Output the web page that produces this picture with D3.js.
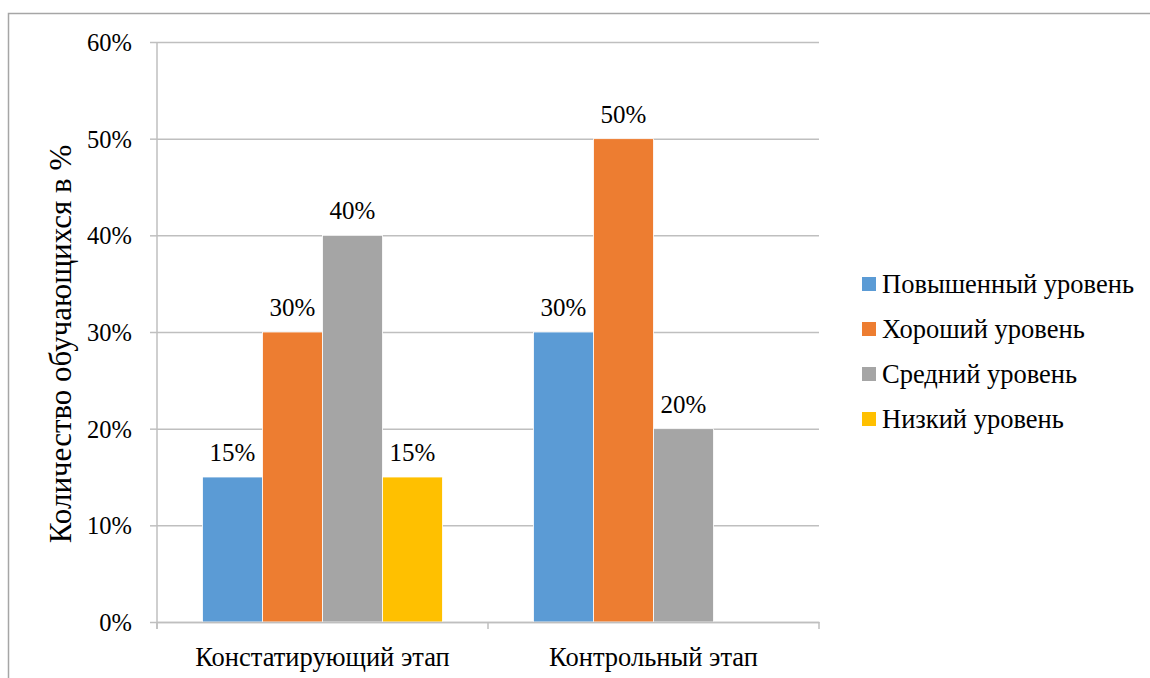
<!DOCTYPE html>
<html>
<head>
<meta charset="utf-8">
<script src="https://cdn.jsdelivr.net/npm/d3@7"></script>
<style>
  body { margin: 0; background: #fff; }
  svg { display: block; }
  .grid line { stroke: #bfbfbf; stroke-width: 1.5; }
  .grid path { display: none; }
</style>
</head>
<body>
<div id="chart"></div>
<script>
const categories = ["Констатирующий этап", "Контрольный этап"];
const seriesNames = ["Повышенный уровень", "Хороший уровень", "Средний уровень", "Низкий уровень"];
const seriesColors = ["#5b9bd5", "#ed7d31", "#a5a5a5", "#ffc000"];
// values per series, one per category (null = no value)
const povyshenny = [15, 30];
const khoroshy = [30, 50];
const sredny = [40, 20];
const nizky = [15, null];
const yTicks = [0, 10, 20, 30, 40, 50, 60];
const yTitle = "Количество обучающихся в %";

const serif = '"Liberation Serif", "Times New Roman", serif';
const width = 1150, height = 678;
const margin = {top: 42, right: 331, bottom: 56, left: 157};
const innerW = width - margin.left - margin.right;
const innerH = height - margin.top - margin.bottom;

const seriesValues = [povyshenny, khoroshy, sredny, nizky];

const svg = d3.select("#chart").append("svg")
    .attr("width", width)
    .attr("height", height);

// outer frame of the chart area
svg.append("rect")
    .attr("x", 8.5).attr("y", 13.5)
    .attr("width", 1300).attr("height", 800)
    .attr("fill", "none")
    .attr("stroke", "#a6a6a6")
    .attr("stroke-width", 1.5);

const g = svg.append("g").attr("transform", `translate(${margin.left},${margin.top})`);

const x0 = d3.scaleBand().domain(categories).range([0, innerW]);
const x1 = d3.scaleBand().domain(seriesNames).range([45.5, x0.bandwidth() - 45.5]);
const y = d3.scaleLinear().domain([0, 60]).range([innerH, 0]);

// horizontal gridlines
g.append("g")
    .attr("class", "grid")
    .call(d3.axisLeft(y).tickValues(yTicks).tickSize(-innerW).tickFormat(""));

// y axis with small outward ticks
const yAxis = g.append("g")
    .call(d3.axisLeft(y).tickValues(yTicks).tickSize(7).tickPadding(18).tickFormat(d => d + "%"))
    .attr("font-family", serif);
yAxis.select(".domain").attr("stroke", "#bfbfbf").attr("stroke-width", 1.5)
    .attr("d", `M0,0V${innerH + 7}`);
yAxis.selectAll(".tick line").attr("stroke", "#bfbfbf").attr("stroke-width", 1.5);
yAxis.selectAll(".tick text")
    .style("font-family", serif)
    .style("font-size", "24.5px")
    .attr("fill", "#000")
    .attr("dy", "0.35em");

// bars
seriesNames.forEach((name, si) => {
    const data = categories.map((c, ci) => ({cat: c, value: seriesValues[si][ci]}))
        .filter(d => d.value != null);

    g.selectAll(".bar-" + si)
        .data(data)
        .enter().append("rect")
        .attr("x", d => x0(d.cat) + x1(name))
        .attr("y", d => y(d.value))
        .attr("width", x1.bandwidth())
        .attr("height", d => innerH - y(d.value))
        .attr("fill", seriesColors[si])
        .attr("stroke", "#fff")
        .attr("stroke-width", 0.8);

    g.selectAll(".label-" + si)
        .data(data)
        .enter().append("text")
        .attr("x", d => x0(d.cat) + x1(name) + x1.bandwidth() / 2)
        .attr("y", d => y(d.value) - 16)
        .attr("text-anchor", "middle")
        .style("font-family", serif)
        .style("font-size", "25px")
        .text(d => d.value + "%");
});

// x axis
const xAxis = g.append("g")
    .attr("transform", `translate(0,${innerH})`)
    .call(d3.axisBottom(x0).tickSize(0).tickPadding(25))
    .attr("font-family", serif);
xAxis.select(".domain").attr("stroke", "#bfbfbf").attr("stroke-width", 1.5);
xAxis.selectAll(".tick text")
    .style("font-family", serif)
    .style("font-size", "26.5px")
    .attr("fill", "#000");
// category boundary ticks
g.selectAll(".xsep")
    .data([0, innerW / 2, innerW])
    .enter().append("line")
    .attr("x1", d => d).attr("x2", d => d)
    .attr("y1", innerH).attr("y2", innerH + 7)
    .attr("stroke", "#bfbfbf")
    .attr("stroke-width", 1.5);

// y axis title
svg.append("text")
    .attr("transform", `translate(71,344) rotate(-90)`)
    .attr("text-anchor", "middle")
    .style("font-family", serif)
    .style("font-size", "31px")
    .text(yTitle);

// legend
const legend = svg.append("g").attr("transform", "translate(862,284)");
seriesNames.forEach((name, i) => {
    const row = legend.append("g").attr("transform", `translate(0,${i * 45})`);
    row.append("rect")
        .attr("x", 0).attr("y", -7)
        .attr("width", 14).attr("height", 14)
        .attr("fill", seriesColors[i]);
    row.append("text")
        .attr("x", 20).attr("y", 0)
        .attr("dy", "0.35em")
        .style("font-family", serif)
        .style("font-size", "26.5px")
        .text(name);
});
</script>
</body>
</html>
